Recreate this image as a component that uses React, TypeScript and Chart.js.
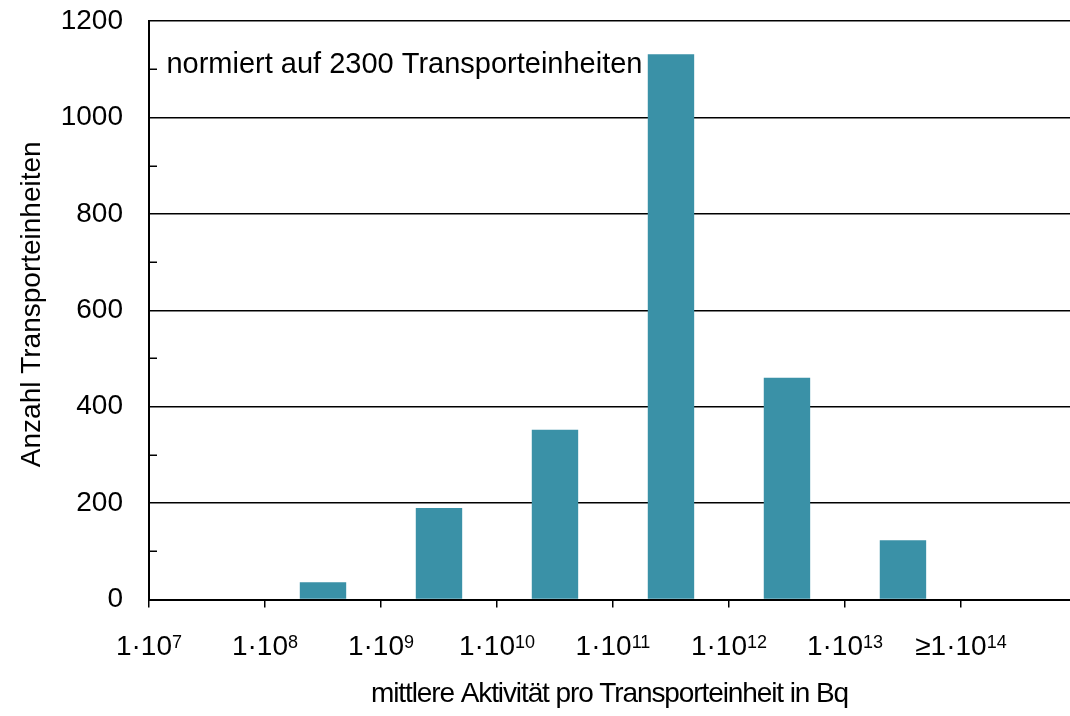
import React, { useEffect, useRef } from "react";
import { Chart, registerables } from "chart.js";

Chart.register(...registerables);

// Bin boundaries: tick labels at the edges of each class (base + exponent)
const tickBases = ["1·10", "1·10", "1·10", "1·10", "1·10", "1·10", "1·10", "≥1·10"];
const tickExponents = ["7", "8", "9", "10", "11", "12", "13", "14"];
// Classes between the boundaries
const categories = ["1e7–1e8", "1e8–1e9", "1e9–1e10", "1e10–1e11", "1e11–1e12", "1e12–1e13", "1e13–1e14", "≥1e14"];
const counts = [0, 36, 190, 352, 1131, 460, 123, 0];
const yTicks = [0, 200, 400, 600, 800, 1000, 1200];
const minorTicks = [100, 300, 500, 700, 900, 1100];
const annotationText = "normiert auf 2300 Transporteinheiten";
const xTitle = "mittlere Aktivität pro Transporteinheit in Bq";
const yTitle = "Anzahl Transporteinheiten";

const FONT = "'Liberation Sans', Arial, sans-serif";
const BAR = "#3a91a7";

export default function App() {
  const ref = useRef<HTMLCanvasElement | null>(null);

  useEffect(() => {
    if (!ref.current) return;
    const overlay = {
      id: "overlayTexts",
      afterDraw(chart: any) {
        const { ctx, chartArea, scales } = chart;
        const y = scales.y;
        const x = scales.x;
        ctx.save();
        // minor inward ticks on y axis
        ctx.strokeStyle = "#000";
        ctx.lineWidth = 1.5;
        for (const v of minorTicks) {
          const py = Math.round(y.getPixelForValue(v)) + 0.25;
          ctx.beginPath();
          ctx.moveTo(chartArea.left, py);
          ctx.lineTo(chartArea.left + 8, py);
          ctx.stroke();
        }
        ctx.fillStyle = "#000";
        ctx.textBaseline = "alphabetic";
        ctx.textAlign = "left";
        // x tick labels with superscript exponents
        const baseFont = `28px ${FONT}`;
        const expFont = `18px ${FONT}`;
        const baseline = x.top + 55.5;
        tickBases.forEach((b, i) => {
          const e = tickExponents[i];
          ctx.font = baseFont;
          const wb = ctx.measureText(b).width;
          ctx.font = expFont;
          const we = ctx.measureText(e).width;
          const px = x.getPixelForValue(i);
          const start = px - (wb + we) / 2;
          ctx.font = baseFont;
          ctx.fillText(b, start, baseline);
          ctx.font = expFont;
          ctx.fillText(e, start + wb, baseline - 7);
        });
        // x axis title
        ctx.font = `28px ${FONT}`;
        (ctx as any).letterSpacing = "-1.1px";
        ctx.textAlign = "center";
        ctx.fillText(xTitle, (chartArea.left + chartArea.right) / 2, x.top + 102.5);
        (ctx as any).letterSpacing = "0px";
        // y axis title
        ctx.save();
        ctx.translate(y.left + 32, (chartArea.top + chartArea.bottom) / 2 - 6);
        ctx.rotate(-Math.PI / 2);
        ctx.textAlign = "center";
        ctx.textBaseline = "middle";
        ctx.font = `28px ${FONT}`;
        ctx.fillText(yTitle, 0, 0);
        ctx.restore();
        // annotation
        ctx.textAlign = "left";
        ctx.textBaseline = "alphabetic";
        ctx.font = `29px ${FONT}`;
        ctx.fillText(annotationText, x.getPixelForValue(0.15), y.getPixelForValue(1092));
        ctx.restore();
      },
    };

    const chart = new Chart(ref.current, {
      type: "bar",
      data: {
        labels: categories,
        datasets: [
          {
            label: "Anzahl",
            data: counts.map((c, i) => ({ x: i + 0.5, y: c })),
            backgroundColor: BAR,
            borderWidth: 0,
            barPercentage: 0.4,
            categoryPercentage: 1.0,
          },
        ],
      },
      options: {
        responsive: false,
        animation: false,
        layout: { padding: { left: 0, right: 0, top: 0, bottom: 0 } },
        plugins: { legend: { display: false }, tooltip: { enabled: false } },
        scales: {
          x: {
            type: "linear",
            min: 0,
            max: 7.94,
            offset: false,
            grid: {
              offset: false,
              drawOnChartArea: false,
              drawTicks: true,
              tickLength: 8,
              color: "#000",
              lineWidth: 1.5,
            },
            border: { display: true, color: "#000", width: 2 },
            ticks: {
              stepSize: 1,
              includeBounds: false,
              autoSkip: false,
              maxRotation: 0,
              display: false,
            },
            afterFit: (s: any) => {
              s.height = 116.5;
              s.paddingLeft = 0;
              s.paddingRight = 0;
            },
          },
          y: {
            min: 0,
            max: 1200,
            afterBuildTicks: (s: any) => {
              s.ticks = yTicks.map((v) => ({ value: v }));
            },
            grid: { color: "#000", lineWidth: 1.5, drawTicks: false },
            border: { display: true, color: "#000", width: 2 },
            ticks: {
              color: "#000",
              font: { family: FONT, size: 28 },
              padding: 26,
              callback: (v: any) => String(v),
            },
            title: { display: false },
            afterFit: (s: any) => {
              s.width = 149;
              s.paddingTop = 21;
              s.paddingBottom = 0;
            },
          },
        },
      },
      plugins: [overlay],
    });
    return () => chart.destroy();
  }, []);

  return (
    <div style={{ position: "fixed", left: 0, top: 0, width: 1070, height: 716, background: "#fff" }}>
      <canvas ref={ref} width={1070} height={716} style={{ display: "block" }} />
    </div>
  );
}
